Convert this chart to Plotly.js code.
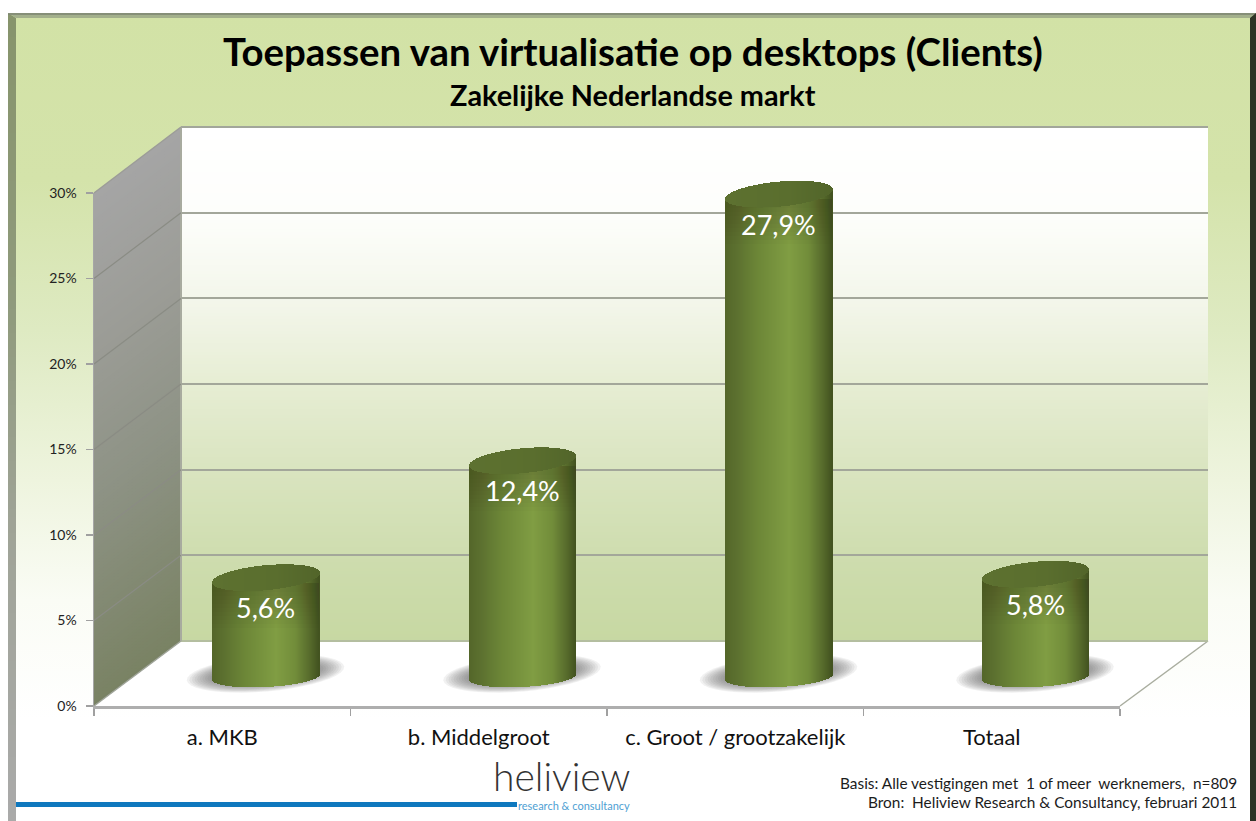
<!DOCTYPE html>
<html>
<head>
<meta charset="utf-8">
<script src="https://cdn.plot.ly/plotly-3.0.1.min.js"></script>
<style>
html,body{margin:0;padding:0;background:#fff;overflow:hidden}
#frame{position:absolute;left:0;top:0;width:1256px;height:821px;
background:linear-gradient(to bottom,#ffffff 0,#ffffff 13px,#d2e2a6 14px,#d4e3aa 180px,#deeac2 330px,#eef4de 480px,#fafcf5 600px,#ffffff 720px)}
#chart{position:absolute;left:0;top:0;width:1256px;height:821px}
</style>
</head>
<body>
<div id="frame"></div>
<div id="chart"></div>
<script>
const categories = ["a. MKB", "b. Middelgroot", "c. Groot / grootzakelijk", "Totaal"];
const values = [5.6, 12.4, 27.9, 5.8];
const valueLabels = ["5,6%", "12,4%", "27,9%", "5,8%"];
const yTicks = [0, 5, 10, 15, 20, 25, 30];
const yTickLabels = ["0%", "5%", "10%", "15%", "20%", "25%", "30%"];
const titleText = "Toepassen van virtualisatie op desktops (Clients)";
const subtitleText = "Zakelijke Nederlandse markt";
const noteBasis = "Basis: Alle vestigingen met  1 of meer  werknemers,  n=809";
const noteBron = "Bron:  Heliview Research &amp; Consultancy, februari 2011";

const W = 1256, H = 821;
const px = x => x / W, py = y => 1 - y / H;
const hex = c => [1,3,5].map(i => parseInt(c.substr(i,2),16));
function ramp(stops, t){
  for(let i=1;i<stops.length;i++){
    if(t<=stops[i][0]){
      const a=stops[i-1], b=stops[i], f=(t-a[0])/(b[0]-a[0]||1);
      const ca=hex(a[1]), cb=hex(b[1]);
      return 'rgb('+ca.map((v,j)=>Math.round(v+(cb[j]-v)*f)).join(',')+')';
    }
  }
  return stops[stops.length-1][1];
}
const poly = pts => 'M'+pts.map(p=>px(p[0])+','+py(p[1])).join('L')+'Z';
const shapes = [];
const addPoly = (pts, fill, opacity, layer) => shapes.push({type:'path',xref:'paper',yref:'paper',path:poly(pts),
  fillcolor:fill,opacity:opacity===undefined?1:opacity,line:{width:0},layer:layer||'below'});
const addLine = (x0,y0,x1,y1,color,width) => shapes.push({type:'line',xref:'paper',yref:'paper',
  x0:px(x0),y0:py(y0),x1:px(x1),y1:py(y1),line:{color:color,width:width},layer:'below'});

// frame bevels
addPoly([[0,0],[8,0],[8,821],[0,821]],'#ffffff');
const bevelStops=[[0,'#87946c'],[0.35,'#8f9a7c'],[0.65,'#a0a498'],[1,'#aaaaaa']];
for(let y=13;y<821;y+=8){
  addPoly([[8,y],[16,Math.max(y,18)],[16,821],[8,821]],ramp(bevelStops,(y-13)/808));
}
addPoly([[8,13],[1256,13],[1250,18],[16,18]],'#a3b08c');
addLine(8,14,1256,14,'#7d8572',1.5);
addPoly([[1250,18],[1256,13],[1256,821],[1250,821]],'#2e3326');

// back wall gradient
const wallStops=[[0,'#ffffff'],[0.17,'#fdfefb'],[0.34,'#f3f6ea'],[0.5,'#e6edd3'],[0.67,'#d9e4bf'],[0.85,'#cddcad'],[1,'#c7d8a2']];
for(let y=127;y<641;y+=3){
  addPoly([[181,y],[1208,y],[1208,641],[181,641]],ramp(wallStops,(y-127)/514));
}
// side wall gradient
const sideStops=[[0,'#a5a5a5'],[0.3,'#9b9c96'],[0.6,'#8d9284'],[1,'#798263']];
for(let y=0;y<514;y+=3){
  addPoly([[94,193+y],[181,127+y],[181,641],[94,706]],ramp(sideStops,y/514));
}
// floor
addPoly([[181,641],[1208,641],[1120,706],[94,706]],'#ffffff');
addLine(1208,641,1120,706,'#a9ad9f',1.5);
addLine(181,641,1208,641,'#b4bea0',2);
addLine(181,127,1208,127,'#a2a69a',2);
addLine(181,127,181,641,'#a8ab9f',2);
addLine(94,193,181,127,'#9c9c98',1.5);
addLine(94,706,181,641,'#a0a59a',1.5);
yTicks.forEach(t=>{ if(t>0&&t<30) addLine(94,706-t*17.1,181,641-t*17.13,'#8a8c84',1.2); });

// contact shadows on the floor
categories.forEach((c,i)=>{
  const cx=265.5+256.5*i, cy=673.5, rot=-5*Math.PI/180;
  for(let l=0;l<14;l++){
    const rx=79-l*2.6, ry=18-l*0.8, pts=[];
    for(let a=0;a<40;a++){
      const t=a/40*2*Math.PI, ex=rx*Math.cos(t), ey=ry*Math.sin(t);
      pts.push([cx+ex*Math.cos(rot)-ey*Math.sin(rot), cy+ex*Math.sin(rot)+ey*Math.cos(rot)]);
    }
    addPoly(pts,'#5a5a5a',0.085,'below');
  }
});

// cylinders built from thin slices of bars
const catPx=256.5, unit=17.2, halfW=53.5;
const sideColors=[[0,'#54662a'],[0.12,'#5d7230'],[0.3,'#6c8637'],[0.6,'#809d43'],[0.78,'#728d3a'],[0.92,'#566a2b'],[1,'#435320']];
const cylBody={x:[],y:[],base:[],offset:[],color:[]}, cylTop={x:[],y:[],base:[],offset:[],color:[]};
categories.forEach((c,i)=>{
  for(let k=0;k<107;k++){
    const dx=-halfW+k+0.5, u=dx/halfW, sq=Math.sqrt(Math.max(0,1-u*u));
    const topMid=values[i]+0.09*dx/unit;
    const bottom=-3/unit+0.05*dx/unit-10*sq/unit;
    cylBody.x.push(c); cylBody.base.push(bottom); cylBody.y.push(topMid-bottom);
    cylBody.offset.push((dx-0.5)/catPx); cylBody.color.push(ramp(sideColors,k/106));
    cylTop.x.push(c); cylTop.base.push(topMid-12.5*sq/unit); cylTop.y.push(25*sq/unit);
    cylTop.offset.push((dx-0.5)/catPx); cylTop.color.push(ramp([[0,'#5d7130'],[0.6,'#5a6e2e'],[1,'#52652a']],k/106));
  }
});
const slice=(d)=>({type:'bar',x:d.x,y:d.y,base:d.base,offset:d.offset,width:1.3/catPx,xaxis:'x3',yaxis:'y3',
  marker:{color:d.color,line:{width:0}},hoverinfo:'skip',showlegend:false});
const carrier=(xa,ya)=>({type:'scatter',mode:'markers',x:categories,y:values,xaxis:xa,yaxis:ya,
  marker:{opacity:0,size:1},hoverinfo:'skip',showlegend:false});
// soft darkening below each cylinder's rim
const rimBands=[14,18,22,26,30,34,38,42,46,50].map(depth=>({type:'bar',x:categories,
  y:values.map(()=>(depth-5)/unit),base:values.map(v=>v-depth/unit),width:107/catPx,xaxis:'x3',yaxis:'y3',
  marker:{color:'#3c4b14',opacity:0.03,line:{width:0}},hoverinfo:'skip',showlegend:false}));

const data=[carrier('x','y'),carrier('x2','y2'),slice(cylBody),...rimBands,slice(cylTop)];

const label=(t,x,y,size,opt)=>Object.assign({text:t,xref:'paper',yref:'paper',x:px(x),y:py(y),showarrow:false,
  xanchor:'center',yanchor:'middle',font:{family:'Lato, sans-serif',size:size,color:'#000'}},opt||{});
const noteFont={family:'Lato, sans-serif',size:15.4,color:'#1c1c1c'};
const annotations=[
  label(subtitleText,633,95,29,{font:{family:'Lato, sans-serif',size:28.8,color:'#000',weight:700}}),
  label(noteBasis,1239,783,15.4,{xanchor:'right',font:noteFont}),
  label(noteBron,1239,802,15.4,{xanchor:'right',font:noteFont}),
  label('heliview',561,775.5,39,{font:{family:'Lato, sans-serif',size:39,color:'#333',weight:300}}),
  label('research &amp; consultancy',574,805.5,11,{font:{family:'Lato, sans-serif',size:11,color:'#4f9fd3'}})
];
values.forEach((v,i)=>annotations.push({text:valueLabels[i],xref:'x3',yref:'y3',x:categories[i],y:v,yshift:-30,
  showarrow:false,font:{family:'Lato, sans-serif',size:27,color:'#ffffff'}}));

shapes.push({type:'rect',xref:'paper',yref:'paper',x0:px(16),x1:px(517),y0:py(807),y1:py(802),fillcolor:'#0f78be',line:{width:0},layer:'above'});

const cats={type:'category',categoryorder:'array',categoryarray:categories,range:[-0.5,3.5],fixedrange:true};
const layout={
  width:W,height:H,margin:{l:0,r:0,t:0,b:0,pad:0},
  paper_bgcolor:'rgba(0,0,0,0)',plot_bgcolor:'rgba(0,0,0,0)',showlegend:false,hovermode:false,barmode:'overlay',bargap:0,
  title:{text:titleText,x:633/W,xanchor:'center',y:py(53),yanchor:'middle',xref:'paper',yref:'paper',
    font:{family:'Lato, sans-serif',size:38.4,color:'#000',weight:700}},
  xaxis:Object.assign({},cats,{domain:[px(181),px(1208)],visible:false,anchor:'y'}),
  yaxis:{domain:[py(641),py(127)],range:[0,30],anchor:'x',tickmode:'array',tickvals:yTicks,showticklabels:false,ticks:'',
    showgrid:true,gridcolor:'#a3a79a',gridwidth:2,zeroline:false,showline:false},
  xaxis2:Object.assign({},cats,{domain:[px(94),px(1120)],anchor:'y2',tickson:'boundaries',ticks:'outside',ticklen:7,tickcolor:'#a0a0a0',tickwidth:1.2,
    showline:true,linecolor:'#aeaeae',linewidth:2.5,showgrid:false,zeroline:false,ticklabelstandoff:10,
    tickfont:{family:'Lato, sans-serif',size:22,color:'#111'}}),
  yaxis2:{domain:[py(706),py(193)],range:[0,30],anchor:'x2',tickmode:'array',tickvals:yTicks,ticktext:yTickLabels,ticks:'outside',ticklen:7,tickcolor:'#a0a0a0',tickwidth:1.2,
    showline:true,linecolor:'#a6a6a6',linewidth:1.5,showgrid:false,zeroline:false,ticklabelstandoff:6,
    tickfont:{family:'Lato, sans-serif',size:14,color:'#222'},fixedrange:true},
  xaxis3:Object.assign({},cats,{domain:[px(137.5),px(1163.5)],visible:false,anchor:'y3'}),
  yaxis3:{domain:[py(708.4),py(123.6)],range:[-2,32],anchor:'x3',visible:false,fixedrange:true},
  shapes:shapes,annotations:annotations
};
Plotly.newPlot('chart',data,layout,{displayModeBar:false,staticPlot:true});
</script>
</body>
</html>
